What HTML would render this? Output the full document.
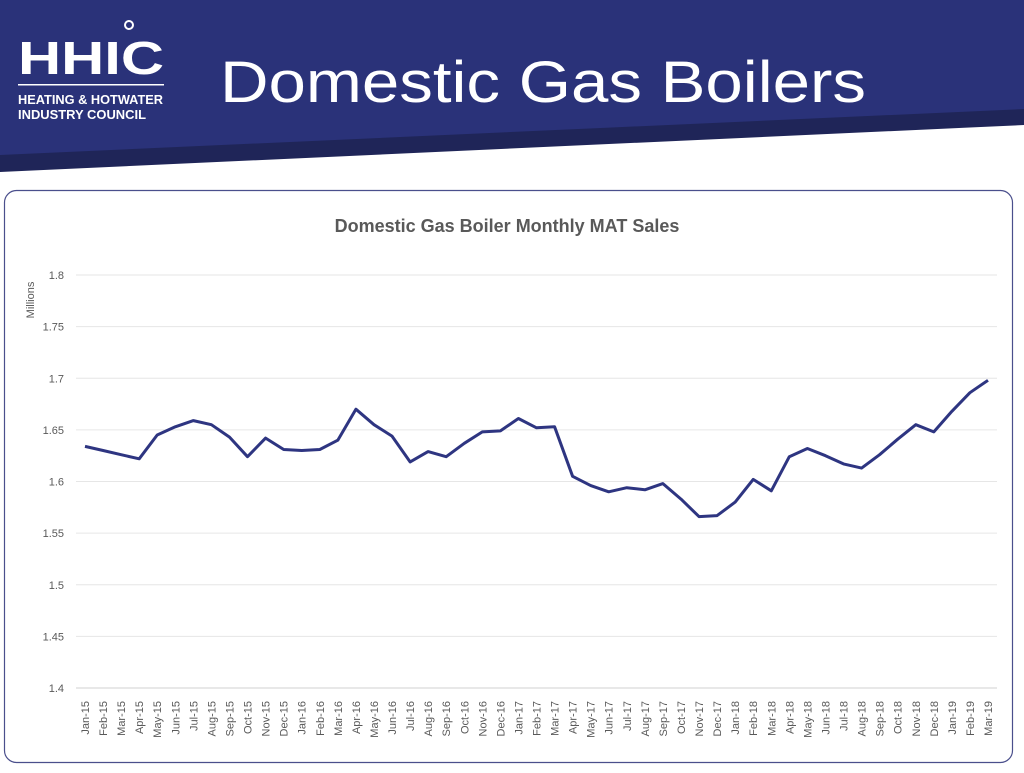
<!DOCTYPE html>
<html><head><meta charset="utf-8"><style>
body{margin:0;width:1024px;height:768px;overflow:hidden;background:#fff;font-family:"Liberation Sans",sans-serif}
</style></head><body>
<svg width="1024" height="768" xmlns="http://www.w3.org/2000/svg">
<polygon points="0,0 1024,0 1024,125 0,172" fill="#1f2558"/>
<polygon points="0,0 1024,0 1024,109 0,155" fill="#2a3279"/>
<g fill="#fff">
<text x="18" y="74" font-size="46" font-weight="bold" font-family="Liberation Sans Narrow, Liberation Sans, sans-serif" textLength="146" lengthAdjust="spacingAndGlyphs">HHIC</text>
<circle cx="129" cy="25" r="4" fill="none" stroke="#fff" stroke-width="2"/>
<rect x="18" y="84" width="146" height="1.5"/>
<text x="18" y="104" font-size="12.5" font-weight="bold" textLength="145" lengthAdjust="spacingAndGlyphs">HEATING &amp; HOTWATER</text>
<text x="18" y="119" font-size="12.5" font-weight="bold" textLength="128" lengthAdjust="spacingAndGlyphs">INDUSTRY COUNCIL</text>
</g>
<text x="220" y="102" font-size="58" fill="#fff" font-family="Liberation Sans, sans-serif" textLength="646" lengthAdjust="spacingAndGlyphs">Domestic Gas Boilers</text>
<rect x="4.5" y="190.5" width="1008" height="572" rx="12" fill="#fff" stroke="#4a4f8c" stroke-width="1.2"/>
<text x="507" y="232" font-size="18" font-weight="bold" fill="#595959" text-anchor="middle">Domestic Gas Boiler Monthly MAT Sales</text>
<text transform="translate(34,300) rotate(-90)" font-size="11" fill="#595959" text-anchor="middle">Millions</text>
<g id="grid"></g><g id="yt"></g><g id="xt"></g>
<path id="line" fill="none" stroke="#2e3581" stroke-width="3" stroke-linejoin="round"/>
</svg>
<script>
const months=["Jan-15","Feb-15","Mar-15","Apr-15","May-15","Jun-15","Jul-15","Aug-15","Sep-15","Oct-15","Nov-15","Dec-15","Jan-16","Feb-16","Mar-16","Apr-16","May-16","Jun-16","Jul-16","Aug-16","Sep-16","Oct-16","Nov-16","Dec-16","Jan-17","Feb-17","Mar-17","Apr-17","May-17","Jun-17","Jul-17","Aug-17","Sep-17","Oct-17","Nov-17","Dec-17","Jan-18","Feb-18","Mar-18","Apr-18","May-18","Jun-18","Jul-18","Aug-18","Sep-18","Oct-18","Nov-18","Dec-18","Jan-19","Feb-19","Mar-19"];
const sales=[1.634,1.630,1.626,1.622,1.645,1.653,1.659,1.655,1.643,1.624,1.642,1.631,1.630,1.631,1.640,1.670,1.655,1.644,1.619,1.629,1.624,1.637,1.648,1.649,1.661,1.652,1.653,1.605,1.596,1.590,1.594,1.592,1.598,1.583,1.566,1.567,1.580,1.602,1.591,1.624,1.632,1.625,1.617,1.613,1.626,1.641,1.655,1.648,1.668,1.686,1.698];
const yTicks=[1.4,1.45,1.5,1.55,1.6,1.65,1.7,1.75,1.8];
const yTickLabels=["1.4","1.45","1.5","1.55","1.6","1.65","1.7","1.75","1.8"];
const NS="http://www.w3.org/2000/svg";
const x0=85,x1=988,yTop=275,yBot=688,vMin=1.4,vMax=1.8;
const xs=i=>x0+(x1-x0)*i/(months.length-1);
const ys=v=>yBot-(v-vMin)/(vMax-vMin)*(yBot-yTop);
const grid=document.getElementById('grid'),yt=document.getElementById('yt'),xt=document.getElementById('xt');
yTicks.forEach((t,i)=>{
 const l=document.createElementNS(NS,'line');
 l.setAttribute('x1',76);l.setAttribute('x2',997);l.setAttribute('y1',ys(t));l.setAttribute('y2',ys(t));
 l.setAttribute('stroke',i==0?'#d0d0d0':'#e6e6e6');l.setAttribute('stroke-width',1);
 
 
 grid.appendChild(l);
 const tx=document.createElementNS(NS,'text');
 tx.setAttribute('x',64);tx.setAttribute('y',ys(t)+4);tx.setAttribute('text-anchor','end');
 tx.setAttribute('font-size',11);tx.setAttribute('fill','#595959');tx.textContent=yTickLabels[i];
 
 
 yt.appendChild(tx);
});
months.forEach((m,i)=>{
 const tx=document.createElementNS(NS,'text');
 const x=xs(i)+4,y=701;
 tx.setAttribute('transform',`translate(${x},${y}) rotate(-90)`);
 tx.setAttribute('text-anchor','end');tx.setAttribute('font-size',11);tx.setAttribute('fill','#595959');
 tx.textContent=m;
 
 
 xt.appendChild(tx);
});
document.getElementById('line').setAttribute('d',sales.map((v,i)=>(i?'L':'M')+xs(i).toFixed(1)+','+ys(v).toFixed(1)).join(''));
</script>
</body></html>
